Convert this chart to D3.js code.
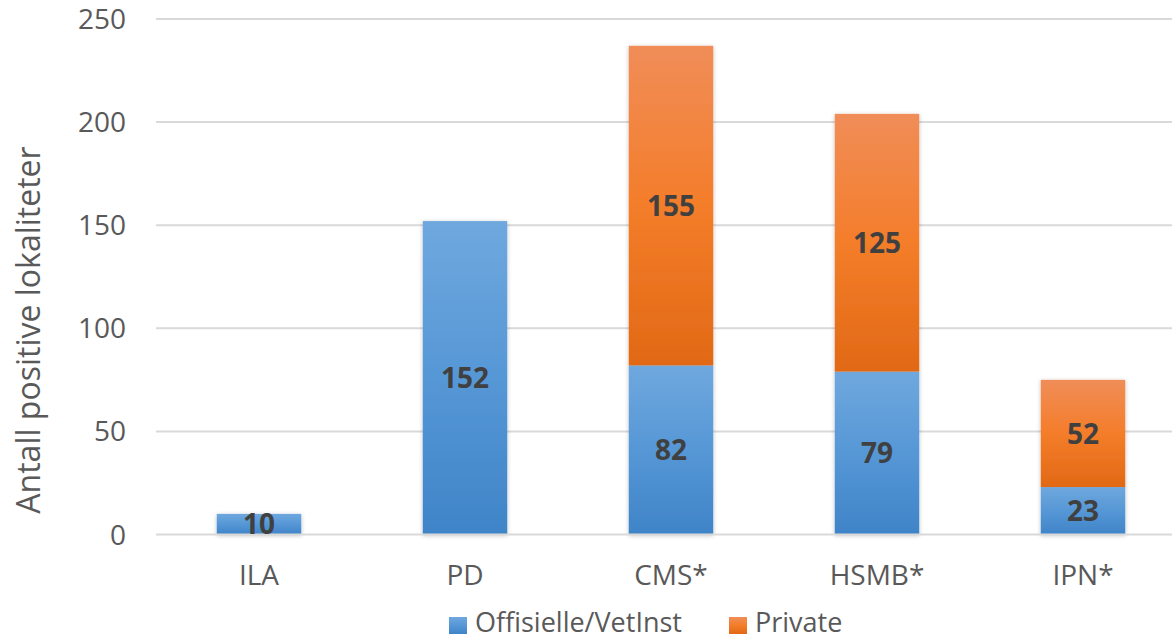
<!DOCTYPE html>
<html><head><meta charset="utf-8">
<script src="https://cdn.jsdelivr.net/npm/d3@7"></script>
<style>
html,body{margin:0;padding:0;background:#fff;}
svg{display:block;font-family:"Open Sans","Liberation Sans",sans-serif;}
</style></head>
<body><svg id="c" width="1172" height="640"></svg>
<script>
const categories = ["ILA","PD","CMS*","HSMB*","IPN*"];
const offisielle = [10,152,82,79,23];
const privat = [0,0,155,125,52];
const seriesNames = ["Offisielle/VetInst","Private"];
const yTicks = [0,50,100,150,200,250];
const yTitle = "Antall positive lokaliteter";

const svg = d3.select("#c");
const x = d3.scaleBand().domain(categories).range([156,1186]).paddingInner(0.59).paddingOuter(0.295);
const y = d3.scaleLinear().domain([0,250]).range([534.5,19]);

const defs = svg.append("defs");
function grad(id, stops){
  const g = defs.append("linearGradient").attr("id",id).attr("x1",0).attr("y1",0).attr("x2",0).attr("y2",1);
  stops.forEach(s=>g.append("stop").attr("offset",s[0]).attr("stop-color",s[1]));
}
grad("gBlue",[[0,"#6fa8de"],[0.5,"#5697d6"],[1,"#3f84c8"]]);
grad("gOrange",[[0,"#f08d58"],[0.5,"#f47d2a"],[1,"#e16915"]]);
const f = defs.append("filter").attr("id","sh").attr("x","-20%").attr("y","-20%").attr("width","140%").attr("height","140%");
f.append("feDropShadow").attr("dx",0).attr("dy",1).attr("stdDeviation",2).attr("flood-color","#000").attr("flood-opacity",0.25);

// gridlines
svg.append("g").selectAll("line").data(yTicks.filter(d=>d>0)).join("line")
  .attr("x1",156).attr("x2",1172).attr("y1",d=>y(d)).attr("y2",d=>y(d))
  .attr("stroke","#d9d9d9").attr("stroke-width",2);

// y axis labels
svg.append("g").selectAll("text").data(yTicks).join("text")
  .attr("x",126).attr("y",d=>y(d)).attr("dy","0.36em").attr("text-anchor","end")
  .attr("font-size",28).attr("fill","#595959").text(d=>d);

svg.append("text").attr("transform","translate(40,330) rotate(-90)")
  .attr("text-anchor","middle").attr("font-size",32).attr("fill","#595959").text(yTitle);

const stack = categories.map((c,i)=>({c, o:offisielle[i], p:privat[i]}));
const bars = svg.append("g");
stack.forEach(d=>{
  const g = bars.append("g").attr("filter","url(#sh)");
  g.append("rect").attr("x",x(d.c)).attr("width",x.bandwidth())
    .attr("y",y(d.o)).attr("height",y(0)-y(d.o)).attr("fill","url(#gBlue)");
  if(d.p>0){
    g.append("rect").attr("x",x(d.c)).attr("width",x.bandwidth())
      .attr("y",y(d.o+d.p)).attr("height",y(d.o)-y(d.o+d.p)).attr("fill","url(#gOrange)");
  }
});

// axis line
svg.append("line").attr("x1",156).attr("x2",1172).attr("y1",y(0)).attr("y2",y(0))
  .attr("stroke","#d9d9d9").attr("stroke-width",2);

// labels
const lab = svg.append("g").attr("font-size",28).attr("font-weight","bold").attr("fill","#404040").attr("text-anchor","middle");
stack.forEach(d=>{
  lab.append("text").attr("x",x(d.c)+x.bandwidth()/2).attr("y",y(d.o/2)).attr("dy","0.36em").text(d.o);
  if(d.p>0) lab.append("text").attr("x",x(d.c)+x.bandwidth()/2).attr("y",y(d.o+d.p/2)).attr("dy","0.36em").text(d.p);
});

// category labels
svg.append("g").selectAll("text").data(categories).join("text")
  .attr("x",d=>x(d)+x.bandwidth()/2).attr("y",585).attr("text-anchor","middle")
  .attr("font-size",28).attr("fill","#595959").text(d=>d);

// legend
const leg = svg.append("g");
const legItems = [{n:seriesNames[0],g:"url(#gBlue)",x:449},{n:seriesNames[1],g:"url(#gOrange)",x:729}];
legItems.forEach(l=>{
  leg.append("rect").attr("x",l.x).attr("y",617).attr("width",18).attr("height",17).attr("fill",l.g);
  leg.append("text").attr("x",l.x+26).attr("y",632).attr("font-size",27).attr("fill","#595959").text(l.n);
});
</script></body></html>
